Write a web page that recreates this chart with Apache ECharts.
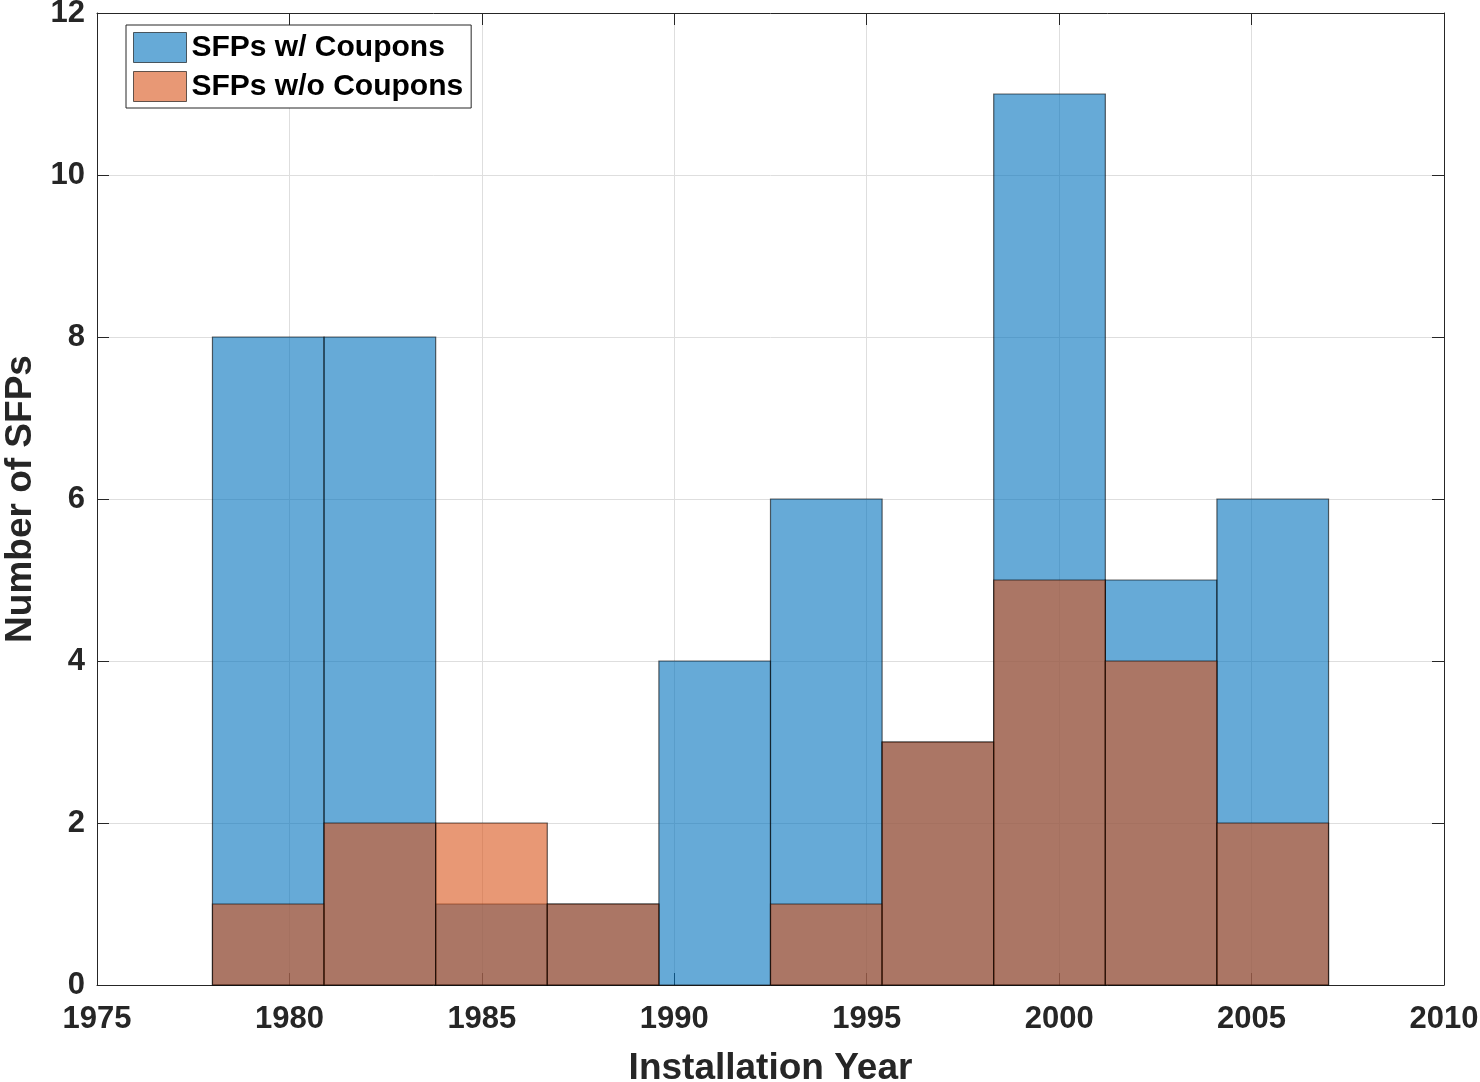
<!DOCTYPE html>
<html>
<head>
<meta charset="utf-8">
<script src="https://cdn.jsdelivr.net/npm/echarts@6/dist/echarts.min.js"></script>
<style>
html,body{margin:0;padding:0;background:#fff;}
#chart{width:1480px;height:1082px;}
</style>
</head>
<body>
<div id="chart"></div>
<script>
// Histogram bin edges (Installation Year)
const binEdges = [1978, 1980.9, 1983.8, 1986.7, 1989.6, 1992.5, 1995.4, 1998.3, 2001.2, 2004.1, 2007];
// Counts per bin
const withCoupons = [8, 8, 1, 1, 4, 6, 3, 11, 5, 6];
const withoutCoupons = [1, 2, 2, 1, 0, 1, 3, 5, 4, 2];
const seriesNames = ['SFPs w/ Coupons', 'SFPs w/o Coupons'];
const xTicks = [1975, 1980, 1985, 1990, 1995, 2000, 2005, 2010];
const yTicks = [0, 2, 4, 6, 8, 10, 12];

const FONT = '"Liberation Sans", Arial, Helvetica, sans-serif';
const AX = '#262626';

function binData(counts) {
  return counts.map((c, i) => [binEdges[i], binEdges[i + 1], c]);
}

function renderBin(params, api) {
  const x0 = api.value(0), x1 = api.value(1), y = api.value(2);
  if (y <= 0) return null;
  const p0 = api.coord([x0, 0]);
  const p1 = api.coord([x1, y]);
  return {
    type: 'rect',
    shape: { x: p0[0], y: p1[1], width: p1[0] - p0[0], height: p0[1] - p1[1] },
    style: api.style()
  };
}

const chart = echarts.init(document.getElementById('chart'), null, { renderer: 'canvas' });

const axisCommon = {
  axisLine: { show: true, onZero: false, lineStyle: { color: AX, width: 1 } },
  axisTick: { show: true, inside: true, length: 12, lineStyle: { color: AX, width: 1 } }
};

chart.setOption({
  animation: false,
  backgroundColor: '#fff',
  grid: { left: 97, right: 36, top: 13, bottom: 97, containLabel: false, outerBoundsMode: 'none' },
  legend: {
    left: 126, top: 25,
    orient: 'vertical',
    data: seriesNames,
    icon: 'rect',
    itemWidth: 53, itemHeight: 30, itemGap: 8,
    padding: [7, 8, 6, 7],
    backgroundColor: '#fff',
    borderColor: AX, borderWidth: 1,
    textStyle: { fontFamily: FONT, fontWeight: 'bold', fontSize: 30, color: '#000', lineHeight: 24, padding: [6, 0, 0, 0] },
    itemStyle: { borderColor: '#000', borderWidth: 1, opacity: 0.6 }
  },
  xAxis: [
    Object.assign({
      type: 'value', min: 1975, max: 2010, interval: 5,
      name: 'Installation Year', nameLocation: 'middle', nameGap: 65,
      nameTextStyle: { fontFamily: FONT, fontWeight: 'bold', fontSize: 37, color: AX },
      axisLabel: { fontFamily: FONT, fontWeight: 'bold', fontSize: 31, color: AX, margin: 19,
        formatter: v => xTicks.includes(v) ? String(v) : '' },
      splitLine: { show: true, lineStyle: { color: '#dedede', width: 1 } }
    }, axisCommon),
    Object.assign({
      type: 'value', min: 1975, max: 2010, interval: 5, position: 'top',
      axisLabel: { show: false }, splitLine: { show: false }
    }, axisCommon)
  ],
  yAxis: [
    Object.assign({
      type: 'value', min: 0, max: 12, interval: 2,
      name: 'Number of SFPs', nameLocation: 'middle', nameGap: 56, nameRotate: 90,
      nameTextStyle: { fontFamily: FONT, fontWeight: 'bold', fontSize: 37, color: AX },
      axisLabel: { fontFamily: FONT, fontWeight: 'bold', fontSize: 31, color: AX, margin: 12,
        formatter: v => yTicks.includes(v) ? String(v) : '' },
      splitLine: { show: true, lineStyle: { color: '#dedede', width: 1 } }
    }, axisCommon),
    Object.assign({
      type: 'value', min: 0, max: 12, interval: 2, position: 'right',
      axisLabel: { show: false }, splitLine: { show: false }
    }, axisCommon)
  ],
  series: [
    {
      name: seriesNames[0], type: 'custom', renderItem: renderBin,
      xAxisIndex: 0, yAxisIndex: 0,
      encode: { x: [0, 1], y: 2 },
      data: binData(withCoupons),
      itemStyle: { color: '#0072BD', opacity: 0.6, borderColor: '#000', borderWidth: 1.2 },
      z: 2
    },
    {
      name: seriesNames[1], type: 'custom', renderItem: renderBin,
      xAxisIndex: 0, yAxisIndex: 0,
      encode: { x: [0, 1], y: 2 },
      data: binData(withoutCoupons),
      itemStyle: { color: '#D95319', opacity: 0.6, borderColor: '#000', borderWidth: 1.2 },
      z: 3
    }
  ]
});
</script>
</body>
</html>
